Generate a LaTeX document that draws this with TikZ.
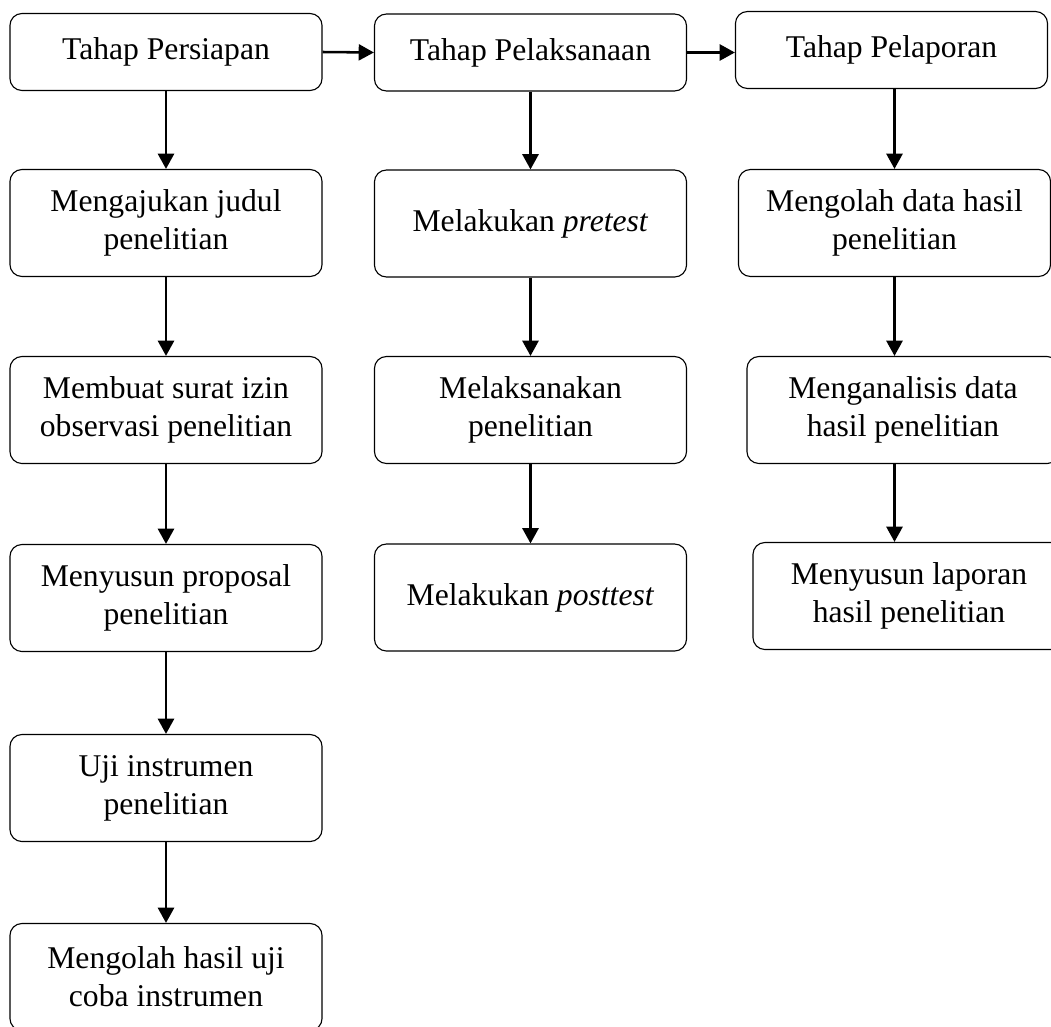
\documentclass[tikz,border=0pt]{standalone}
\usepackage{fontspec}
\setmainfont{Liberation Serif}
\usetikzlibrary{arrows.meta}

\begin{document}
\begin{tikzpicture}[x=0.025cm,y=-0.025cm,
                    kotak/.style={draw, rounded corners=0.3cm, line width=0.8pt, align=center,
                                  minimum width=7.8cm, minimum height=2.675cm, inner sep=0pt,
                                  font=\fontsize{22.5}{27}\selectfont},
                    judul/.style={kotak, minimum height=1.925cm},
                    panah/.style={line width=1.8pt, -{Triangle[length=0.38cm,width=0.4cm]}}]
                    \useasboundingbox (0,0) rectangle (1051,1026);
                    \clip (0,0) rectangle (1051,1026);

                    % persiapan
                    \node[judul] (persiapan) at (166,52) {Tahap Persiapan};
                    \node[kotak] (aju) at (166,223) {Mengajukan judul\\penelitian};
                    \node[kotak] (surat) at (166,410) {Membuat surat izin\\observasi penelitian};
                    \node[kotak] (proposal) at (166,598) {Menyusun proposal\\penelitian};
                    \node[kotak] (uji) at (166,788) {Uji instrumen\\penelitian};
                    \node[kotak] (olahuji) at (166,977) {Mengolah hasil uji\\coba instrumen};

                    % pelaksanaan
                    \node[judul] (pelaksanaan) at (530.5,52.5) {Tahap Pelaksanaan};
                    \node[kotak] (pretest) at (530.5,223.5) {Melakukan \textit{pretest}};
                    \node[kotak] (laksana) at (530.5,410) {Melaksanakan\\penelitian};
                    \node[kotak] (posttest) at (530.5,597.5) {Melakukan \textit{posttest}};

                    % pelaporan
                    \node[judul] (pelaporan) at (891.5,50) {Tahap Pelaporan};
                    \node[kotak] (olahdata) at (894.5,223) {Mengolah data hasil\\penelitian};
                    \node[kotak] (analisis) at (903,410) {Menganalisis data\\hasil penelitian};
                    \node[kotak] (laporan) at (909,596) {Menyusun laporan\\hasil penelitian};

                    \draw[panah] (persiapan.east) -- (pelaksanaan.west);
                    \draw[panah] (pelaksanaan.east) -- (pelaksanaan.east -| pelaporan.west);

                    \draw[panah] (persiapan) -- (aju);
                    \draw[panah] (aju) -- (surat);
                    \draw[panah] (surat) -- (proposal);
                    \draw[panah] (proposal) -- (uji);
                    \draw[panah] (uji) -- (olahuji);

                    \draw[panah] (pelaksanaan) -- (pretest);
                    \draw[panah] (pretest) -- (laksana);
                    \draw[panah] (laksana) -- (posttest);

                    \draw[panah] (olahdata.north |- pelaporan.south) -- (olahdata.north);
                    \draw[panah] (olahdata.south) -- (olahdata.south |- analisis.north);
                    \draw[panah] (olahdata.south |- analisis.south) -- (olahdata.south |- laporan.north);
                \end{tikzpicture}
\end{document}
